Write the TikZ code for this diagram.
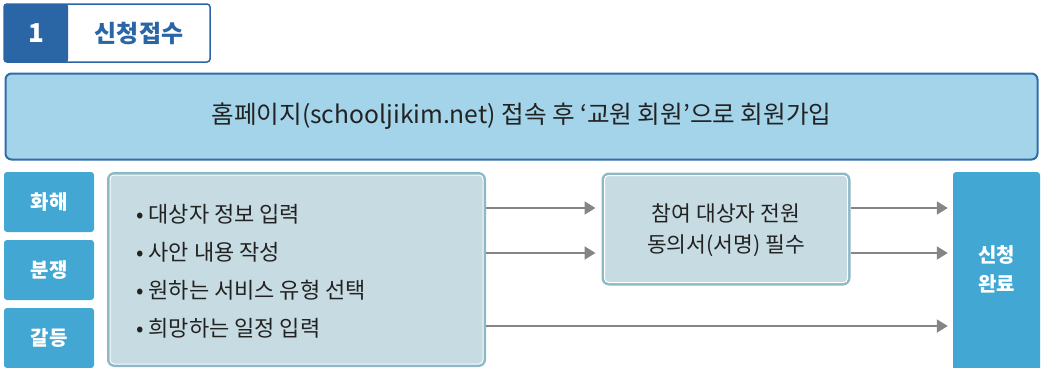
\documentclass[tikz,border=0pt]{standalone}
\usepackage{fontspec}
\setmainfont{Noto Sans CJK KR}
\usetikzlibrary{arrows.meta,calc}
\definecolor{darkblue}{HTML}{2A66A6}
\definecolor{bannerfill}{HTML}{A3D4EA}
\definecolor{bannerdraw}{HTML}{2F6DAA}
\definecolor{tabblue}{HTML}{42A8D3}
\definecolor{boxfill}{HTML}{C7DCE2}
\definecolor{boxdraw}{HTML}{8DB8C4}
\definecolor{arrgray}{HTML}{858585}
\definecolor{txt}{HTML}{222222}
\tikzset{
  tab/.style={fill=tabblue, rounded corners=3pt, minimum width=90pt, minimum height=60pt, inner sep=0pt, text=white, font=\fontsize{20}{24}\selectfont\bfseries},
  panel/.style={fill=boxfill, draw=boxdraw, line width=3pt, rounded corners=6pt, inner sep=0pt},
  arr/.style={draw=arrgray, line width=2pt, -{Triangle[length=11pt,width=13pt]}},
}
\begin{document}
\begin{tikzpicture}[x=1pt,y=-1pt]
\useasboundingbox (0,0) rectangle (1043,367);
% title
\node[fill=white, draw=darkblue, line width=1.5pt, rounded corners=3pt, minimum width=206pt, minimum height=58pt, inner sep=0pt] (tframe) at (107,33) {};
\node[fill=darkblue, rounded corners=2pt, minimum width=64pt, minimum height=58pt, inner sep=0pt, text=white, font=\fontsize{26}{30}\selectfont\bfseries] (tnum) at (36,33) {1};
\node[text=darkblue, font=\fontsize{24}{28}\selectfont\bfseries, inner sep=0pt] (ttl) at (139,33) {신청접수};
% banner
\node[fill=bannerfill, draw=bannerdraw, line width=2pt, rounded corners=6pt, minimum width=1032pt, minimum height=86pt, inner sep=0pt, text=txt, font=\fontsize{24.6}{28}\selectfont] (ban) at (521.5,116.5) {홈페이지(schooljikim.net) 접속 후 ‘교원 회원’으로 회원가입};
% tabs
\node[tab] (t1) at (49,202) {화해};
\node[tab] (t2) at (49,270) {분쟁};
\node[tab] (t3) at (49,338) {갈등};
% big box
\node[panel, minimum width=376pt, minimum height=192pt] (big) at (296.5,269.5) {};
\draw[white, line width=1pt, rounded corners=4pt] ($(big.north west)+(3,3)$) rectangle ($(big.south east)+(-3,-3)$);
\node[anchor=west, align=left, text=txt, font=\fontsize{22}{38}\selectfont, inner sep=0pt] (list) at (136,271)
{• 대상자 정보 입력\\• 사안 내용 작성\\• 원하는 서비스 유형 선택\\• 희망하는 일정 입력};
% middle box
\node[panel, minimum width=246pt, minimum height=110pt] (mid) at (726,229) {};
\draw[white, line width=1pt, rounded corners=4pt] ($(mid.north west)+(3,3)$) rectangle ($(mid.south east)+(-3,-3)$);
\node[align=center, text=txt, font=\fontsize{21.5}{31}\selectfont, inner sep=0pt] (midt) at (726,230) {참여 대상자 전원\\동의서(서명) 필수};
% right box
\node[fill=tabblue, rounded corners=3pt, minimum width=87pt, minimum height=200pt, inner sep=0pt] (done) at (996.5,272) {};
\node[align=center, text=white, font=\fontsize{20}{29}\selectfont\bfseries, inner sep=0pt] (donet) at (996.5,269) {신청\\완료};
% arrows
\coordinate (r1) at (0,208);
\coordinate (r2) at (0,253);
\coordinate (r3) at (0,326);
\draw[arr] (big.east |- r1) -- ($(mid.west |- r1)+(-6,0)$);
\draw[arr] (big.east |- r2) -- ($(mid.west |- r2)+(-6,0)$);
\draw[arr] (mid.east |- r1) -- ($(done.west |- r1)+(-5,0)$);
\draw[arr] (mid.east |- r2) -- ($(done.west |- r2)+(-5,0)$);
\draw[arr] (big.east |- r3) -- ($(done.west |- r3)+(-5,0)$);
\end{tikzpicture}
\end{document}
